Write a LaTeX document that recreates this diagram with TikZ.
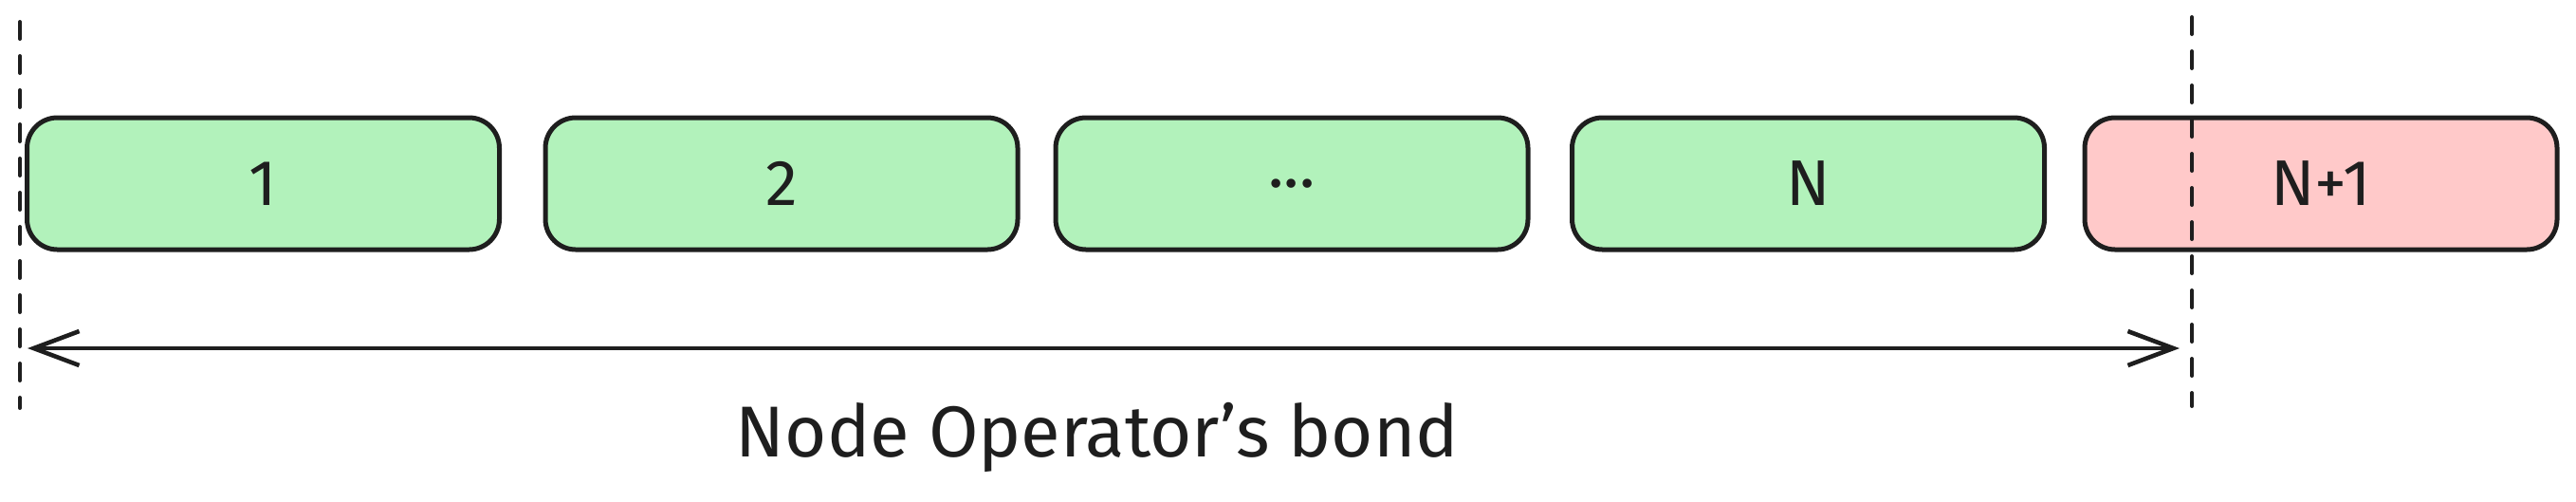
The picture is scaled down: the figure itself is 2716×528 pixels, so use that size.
\documentclass[tikz,border=0pt]{standalone}
\usepackage{fontspec}
\setmainfont{Fira Sans}
\usetikzlibrary{arrows.meta}
\definecolor{ink}{HTML}{1E1E1E}
\definecolor{okfill}{HTML}{B2F2BB}
\definecolor{badfill}{HTML}{FFC9C9}
\tikzset{
  slot/.style={draw=ink, line width=1.25pt, rounded corners=8pt, rectangle,
    minimum width=124.5pt, minimum height=34.75pt, inner sep=0pt,
    font=\fontsize{17}{20}\selectfont, text=ink},
  okslot/.style={slot, fill=okfill},
  badslot/.style={slot, fill=badfill},
  guide/.style={draw=ink, line width=1pt, dash pattern=on 4.5pt off 4.5pt, line cap=round},
  bondarrow/.style={draw=ink, line width=1.15pt, line cap=round,
    {Straight Barb[length=12pt,width=9pt,line width=1.15pt]}-{Straight Barb[length=12pt,width=9pt,line width=1.15pt]}},
  caption/.style={font=\fontsize{19}{22}\selectfont, text=ink, inner sep=0pt, anchor=base}
}
\begin{document}
\begin{tikzpicture}[x=0.25pt,y=-0.25pt]
\useasboundingbox (0,0) rectangle (2716,528);
% boxes
\node[okslot]  (b1) at (277.5,193.5) {1};
\node[okslot]  (b2) at (824,193.5)   {2};
\node[okslot]  (b3) at (1362,193.5)  {...};
\node[okslot]  (bN) at (1906.5,193.5){N};
\node[badslot] (bN1) at (2447,193.5) {N+1};
% guide lines
\coordinate (lt) at (21,23);
\coordinate (lb) at (21,430);
\coordinate (rt) at (2311,18);
\coordinate (rb) at (2311,428);
\draw[guide] (lt) -- (lb);
\draw[guide] (rt) -- (rb);
% arrow
\coordinate (al) at (29,367);
\coordinate (ar) at (2298,367);
\draw[bondarrow] (al) -- (ar);
% caption
\node[caption] (cap) at (1157,481) {Node Operator's bond};
\end{tikzpicture}
\end{document}
